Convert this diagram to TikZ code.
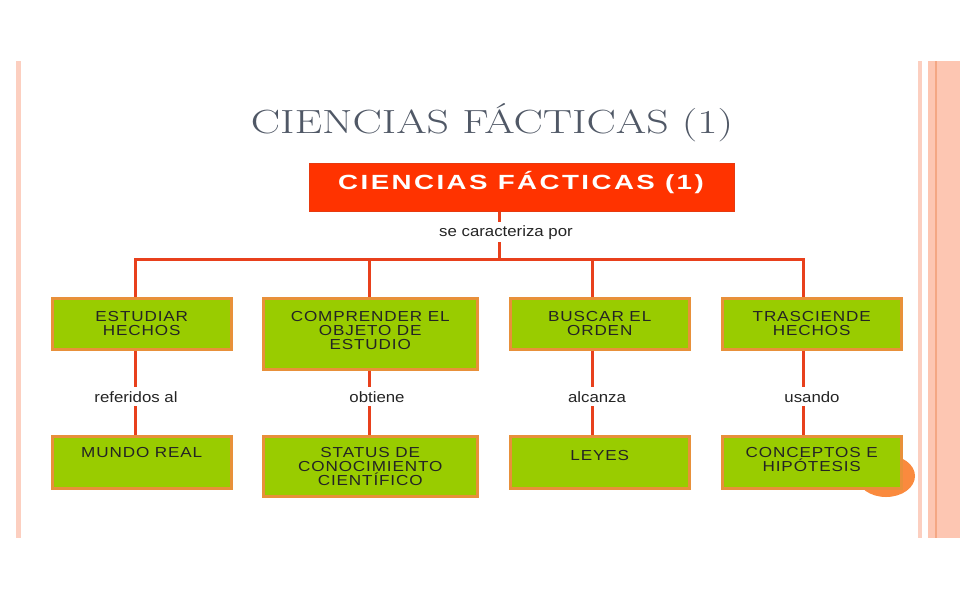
\documentclass[tikz,border=0pt]{standalone}
\usepackage{fontspec}
\newfontfamily\boxf[FakeStretch=1.18]{Liberation Sans}
\newfontfamily\lblf[FakeStretch=1.12]{Liberation Sans}
\newfontfamily\redf[FakeStretch=1.35]{Liberation Sans}
\usetikzlibrary{calc,shadows}
\definecolor{gfill}{HTML}{99CC00}
\definecolor{gedge}{HTML}{E8903A}
\definecolor{rfill}{HTML}{FF3300}
\definecolor{redge}{HTML}{E63A10}
\definecolor{lcol}{HTML}{E8401C}
\definecolor{ttl}{HTML}{505866}
\definecolor{stripeA}{HTML}{FCCFC0}
\definecolor{stripeB}{HTML}{FDC6B2}
\definecolor{stripeC}{HTML}{F4A784}
\definecolor{circol}{HTML}{FA8A3E}
\definecolor{btext}{HTML}{242424}
\begin{document}
\begin{tikzpicture}[x=1pt,y=-1pt,
  gbox/.style={draw=gedge, fill=gfill, line width=2.5pt, anchor=north west, inner sep=0pt, minimum width=#1,
    drop shadow={opacity=0.25, shadow xshift=1.5pt, shadow yshift=-1.5pt}},
  btxt/.style={anchor=north, inner sep=0pt, align=center, text=btext,
    font=\boxf\addfontfeature{LetterSpace=6}\fontsize{14.5}{14}\selectfont},
  lbl/.style={anchor=base, inner sep=4pt, text=btext,
    font=\lblf\fontsize{15}{16}\selectfont},
  conn/.style={draw=lcol, line width=3pt}]
\useasboundingbox (0,0) rectangle (960,600);
% slide borders
\fill[stripeA] (16,61) rectangle (21,538);
\fill[stripeA] (918,61) rectangle (922,538);
\fill[stripeB] (928,61) rectangle (960,538);
\fill[stripeC] (935,61) rectangle (937,538);
% title
\node[anchor=base, inner sep=0pt, text=ttl, font=\fontsize{33.5}{36}\selectfont] (title) at (492,133) {\scalebox{1.31}[1]{CIENCIAS FÁCTICAS (1)}};
% red box
\node[draw=redge, fill=rfill, line width=1pt, minimum width=425pt, minimum height=48pt, inner sep=0pt] (red) at (521.5,187) {};
\node[anchor=base, inner sep=0pt, text=white, font=\redf\bfseries\addfontfeature{LetterSpace=12}\fontsize{20.5}{24}\selectfont] (redt) at (521,189) {CIENCIAS FÁCTICAS (1)};
\node[lbl, inner sep=3pt] (sc) at (506,236) {se caracteriza por};
% column x positions
\coordinate (xr) at (499,0);
\coordinate (x1) at (135,0);
\coordinate (x2) at (369,0);
\coordinate (x3) at (592,0);
\coordinate (x4) at (803,0);
\coordinate (bar) at (0,259);
% circle decoration
\fill[circol] (886,476) ellipse [x radius=29, y radius=21];
% first row boxes
\node[gbox=179pt, minimum height=51pt] (b1) at (51,297) {};
\node[gbox=214pt, minimum height=71pt] (b2) at (262,297) {};
\node[gbox=179pt, minimum height=51pt] (b3) at (509,297) {};
\node[gbox=179pt, minimum height=51pt] (b4) at (721,297) {};
\node[btxt] (t1) at ($(b1.north)+(0,14)$) {ESTUDIAR\\HECHOS};
\node[btxt] (t2) at ($(b2.north)+(0,14)$) {COMPRENDER EL\\OBJETO DE\\ESTUDIO};
\node[btxt] (t3) at ($(b3.north)+(0,14)$) {BUSCAR EL\\ORDEN};
\node[btxt] (t4) at ($(b4.north)+(0,14)$) {TRASCIENDE\\HECHOS};
% second row boxes
\node[gbox=179pt, minimum height=52pt] (c1) at (51,435) {};
\node[gbox=214pt, minimum height=60pt] (c2) at (262,435) {};
\node[gbox=179pt, minimum height=52pt] (c3) at (509,435) {};
\node[gbox=179pt, minimum height=52pt] (c4) at (721,435) {};
\node[btxt] (u1) at ($(c1.north)+(0,12)$) {MUNDO REAL};
\node[btxt] (u2) at ($(c2.north)+(0,12)$) {STATUS DE\\CONOCIMIENTO\\CIENTÍFICO};
\node[btxt] (u3) at ($(c3.north)+(0,15)$) {LEYES};
\node[btxt] (u4) at ($(c4.north)+(0,12)$) {CONCEPTOS E\\HIPÓTESIS};
% labels
\node[lbl] (l1) at (136,402) {referidos al};
\node[lbl] (l2) at (377,402) {obtiene};
\node[lbl] (l3) at (597,402) {alcanza};
\node[lbl] (l4) at (812,402) {usando};
% connectors
\draw[conn] (red.south -| xr) -- (sc.north -| xr);
\draw[conn] (sc.south -| xr) -- (xr |- bar);
\draw[conn] (b1.north -| x1) -- (x1 |- bar) -- (x4 |- bar) -- (b4.north -| x4);
\draw[conn] (x2 |- bar) -- (b2.north -| x2);
\draw[conn] (x3 |- bar) -- (b3.north -| x3);
\draw[conn] (b1.south -| x1) -- (l1.north -| x1);
\draw[conn] (l1.south -| x1) -- (c1.north -| x1);
\draw[conn] (b2.south -| x2) -- (l2.north -| x2);
\draw[conn] (l2.south -| x2) -- (c2.north -| x2);
\draw[conn] (b3.south -| x3) -- (l3.north -| x3);
\draw[conn] (l3.south -| x3) -- (c3.north -| x3);
\draw[conn] (b4.south -| x4) -- (l4.north -| x4);
\draw[conn] (l4.south -| x4) -- (c4.north -| x4);
\end{tikzpicture}
\end{document}
